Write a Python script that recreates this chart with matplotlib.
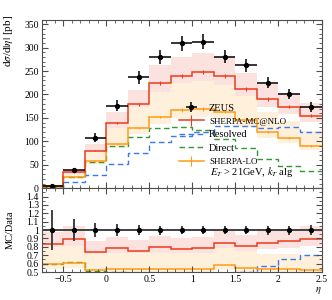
import matplotlib
matplotlib.use('Agg')
import matplotlib.pyplot as plt
import numpy as np
from matplotlib.ticker import MultipleLocator
from matplotlib.lines import Line2D

plt.rcParams['font.family'] = ['Liberation Serif', 'DejaVu Serif']
plt.rcParams['mathtext.fontset'] = 'stix'
plt.rcParams['font.size'] = 7

# eta bins and values
edges = [-0.75, -0.5, -0.25, 0.0, 0.25, 0.5, 0.75, 1.0, 1.25, 1.5, 1.75, 2.0, 2.25, 2.5]
zeus = [5, 38, 108, 176, 237, 281, 309, 313, 281, 262, 225, 201, 173]
zeus_err = [1.2, 5, 9, 12, 14, 15, 16, 16, 14, 13, 12, 11, 11]
mcatnlo = [4.2, 34, 80, 139, 179, 225, 240, 248, 239, 211, 191, 174, 155]
mcatnlo_lo = [3.8, 31, 72, 126, 163, 205, 220, 226, 218, 193, 174, 158, 141]
mcatnlo_hi = [4.9, 40, 94, 162, 209, 262, 280, 288, 279, 246, 223, 203, 181]
sherpa_lo = [3, 23, 57, 95, 128, 152, 167, 169, 163, 145, 120, 107, 90]
sherpa_lo_lo = [2.7, 21, 51, 86, 115, 137, 150, 152, 147, 131, 108, 96, 81]
sherpa_lo_hi = [4, 31, 77, 128, 173, 205, 225, 228, 220, 196, 162, 144, 122]
resolved = [1, 13, 29, 52, 75, 98, 111, 121, 132, 132, 128, 131, 121]
direct = [3, 23.5, 55, 89, 110, 128, 130, 124, 106, 86, 62, 48, 36]

edges = np.array(edges)
centers = 0.5*(edges[1:]+edges[:-1])
halfw = 0.5*np.diff(edges)
zeus = np.array(zeus, float)
zeus_err = np.array(zeus_err, float)

red = '#ee3a1c'
orange = '#ff9a14'
green = '#2f9a2f'
blue = '#3a78f0'
pink = '#fbe2df'
peach = '#fff0dc'
gray = '0.3'

fig = plt.figure(figsize=(3.32, 3.0), dpi=100)
ax = fig.add_axes([0.1255, 0.3727, 0.843, 0.5606])
ax2 = fig.add_axes([0.1255, 0.0933, 0.843, 0.2794])

def style(a):
    a.tick_params(which='both', direction='in', top=True, right=True,
                  color=gray, labelsize=7, pad=2)
    a.tick_params(which='major', length=4.5, width=0.8)
    a.tick_params(which='minor', length=2.2, width=0.6)
    for s in a.spines.values():
        s.set_color(gray)
        s.set_linewidth(0.8)
    a.xaxis.set_major_locator(MultipleLocator(0.5))
    a.xaxis.set_minor_locator(MultipleLocator(0.1))
    a.set_xlim(edges[0], edges[-1])

# main panel
ax.stairs(mcatnlo_hi, edges, baseline=mcatnlo_lo, fill=True, color=pink, lw=0)
ax.stairs(sherpa_lo_hi, edges, baseline=sherpa_lo_lo, fill=True, color=peach, lw=0)
ax.stairs(direct, edges, color=green, lw=1.0, ls=(0, (4, 2.5)), baseline=None)
ax.stairs(resolved, edges, color=blue, lw=1.0, ls=(0, (4, 2.5)), baseline=None)
ax.stairs(sherpa_lo, edges, color=orange, lw=1.1, baseline=None)
ax.errorbar(centers, sherpa_lo, yerr=np.array(sherpa_lo)*0.02, fmt='none', ecolor=orange, elinewidth=0.8)
ax.stairs(mcatnlo, edges, color=red, lw=1.1, baseline=None)
ax.errorbar(centers, mcatnlo, yerr=np.array(mcatnlo)*0.02, fmt='none', ecolor=red, elinewidth=0.8)
ax.errorbar(centers, zeus, xerr=halfw, yerr=zeus_err, fmt='o', color='k', ms=2.8, elinewidth=1.1)

style(ax)
ax.set_ylim(0, 359)
ax.yaxis.set_major_locator(MultipleLocator(50))
ax.yaxis.set_minor_locator(MultipleLocator(10))
ax.tick_params(labelbottom=False)
ax.set_ylabel(r'd$\sigma$/d$|\eta|$ [pb]', loc='top', fontsize=8)
ax.yaxis.set_label_coords(-0.095, 1.03)

handles = [
    ax.errorbar([], [], xerr=[], yerr=[], fmt='o', color='k', ms=2.8, elinewidth=1.1),
    ax.errorbar([], [], yerr=[], color=red, lw=1.1, elinewidth=0.8),
    Line2D([], [], color=blue, lw=1.0, ls=(0, (4, 2.5))),
    Line2D([], [], color=green, lw=1.0, ls=(0, (4, 2.5))),
    ax.errorbar([], [], yerr=[], color=orange, lw=1.1, elinewidth=0.8),
]
labels = ['ZEUS', 'SHERPA-MC@NLO', 'Resolved', 'Direct', 'SHERPA-LO']
leg = ax.legend(handles, labels, loc='upper left', bbox_to_anchor=(0.49, 0.505),
                frameon=False, fontsize=7.5, handlelength=2.4, handletextpad=0.5,
                labelspacing=0.4, borderpad=0, borderaxespad=0)
leg.get_texts()[1].set_fontsize(6.5)
leg.get_texts()[4].set_fontsize(6.5)
ax.text(0.6, 0.095, r'$E_T$ > 21GeV, $k_T$ alg', transform=ax.transAxes,
        fontsize=7.5, va='center', ha='left')

# ratio panel
ax2.stairs(np.array(mcatnlo_hi)/zeus, edges, baseline=np.array(mcatnlo_lo)/zeus, fill=True, color=pink, lw=0)
ax2.stairs(np.array(sherpa_lo_hi)/zeus, edges, baseline=np.array(sherpa_lo_lo)/zeus, fill=True, color=peach, lw=0)
ax2.stairs(np.array(direct)/zeus, edges, color=green, lw=1.0, ls=(0, (4, 2.5)), baseline=None)
ax2.stairs(np.array(resolved)/zeus, edges, color=blue, lw=1.0, ls=(0, (4, 2.5)), baseline=None)
ax2.stairs(np.array(sherpa_lo)/zeus, edges, color=orange, lw=1.1, baseline=None)
ax2.stairs(np.array(mcatnlo)/zeus, edges, color=red, lw=1.1, baseline=None)
ax2.errorbar(centers, np.ones_like(zeus), xerr=halfw, yerr=zeus_err/zeus,
             fmt='o', color='k', ecolor='0.25', ms=2.8, elinewidth=1.4)

style(ax2)
ax2.set_ylim(0.5, 1.5)
ax2.yaxis.set_minor_locator(MultipleLocator(0.05))
ax2.set_yticks(np.round(np.arange(0.5, 1.41, 0.1), 1))
ax2.set_yticklabels(['%g' % v for v in np.round(np.arange(0.5, 1.41, 0.1), 1)])
ax2.set_xticks([-0.5, 0, 0.5, 1, 1.5, 2, 2.5])
ax2.set_xticklabels(['\u22120.5', '0', '0.5', '1', '1.5', '2', '2.5'])
ax2.set_ylabel('MC/Data', fontsize=7.5)
ax2.yaxis.set_label_coords(-0.095, 0.5)
ax2.set_xlabel(r'$\eta$', loc='right', fontsize=7.5, labelpad=1)

fig.savefig('out.png', dpi=100)
